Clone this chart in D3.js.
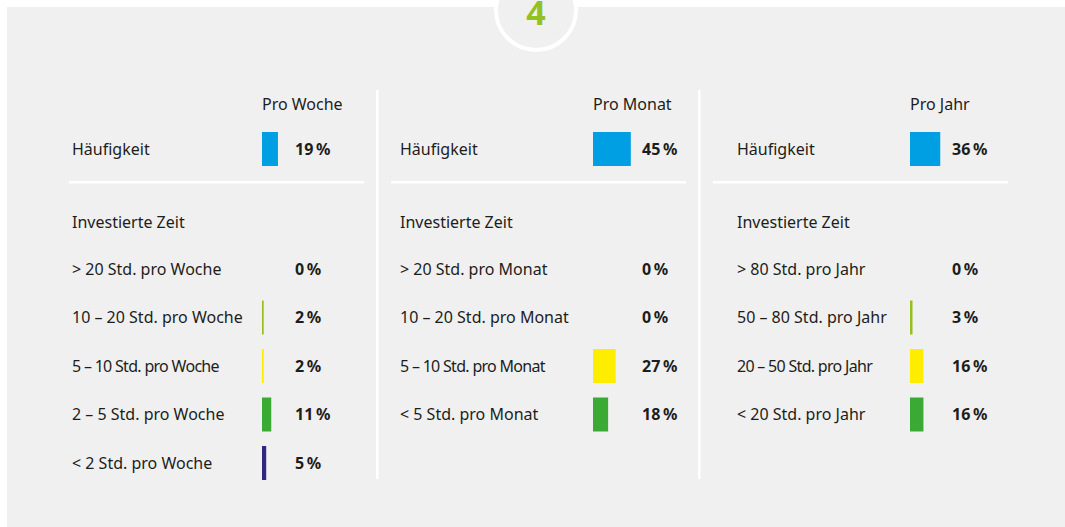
<!DOCTYPE html>
<html>
<head>
<meta charset="utf-8">
<script src="https://cdn.jsdelivr.net/npm/d3@7"></script>
<style>
  html, body { margin: 0; padding: 0; background: #ffffff; }
  svg { display: block; }
  text { font-family: "Noto Sans", "Open Sans", sans-serif; fill: #1d1d1b; }
</style>
</head>
<body>
<svg id="chart" width="1065" height="527"></svg>
<script>
// ---- data ----
const stepNumber = "4";
const periods = ["Pro Woche", "Pro Monat", "Pro Jahr"];
const frequencyLabel = "Häufigkeit";
const frequencyValues = [19, 45, 36];
const timeTitle = "Investierte Zeit";
const timeLabelsWoche = ["> 20 Std. pro Woche", "10 – 20 Std. pro Woche", "5 – 10 Std. pro Woche", "2 – 5 Std. pro Woche", "< 2 Std. pro Woche"];
const timeValuesWoche = [0, 2, 2, 11, 5];
const timeLabelsMonat = ["> 20 Std. pro Monat", "10 – 20 Std. pro Monat", "5 – 10 Std. pro Monat", "< 5 Std. pro Monat"];
const timeValuesMonat = [0, 0, 27, 18];
const timeLabelsJahr = ["> 80 Std. pro Jahr", "50 – 80 Std. pro Jahr", "20 – 50 Std. pro Jahr", "< 20 Std. pro Jahr"];
const timeValuesJahr = [0, 3, 16, 16];

// ---- styles / layout ----
const frequencyColor = "#009fe3";
const rowColors = ["#95c11f", "#95c11f", "#ffed00", "#3aaa35", "#312783"];
const bg = "#f0f0f0";
const panelLayout = [
  { labelX: 72,  barX: 262, valueX: 295, lineX1: 69,  lineX2: 364 },
  { labelX: 400, barX: 593, valueX: 642, lineX1: 391, lineX2: 686 },
  { labelX: 737, barX: 910, valueX: 952, lineX1: 713, lineX2: 1008 }
];
const panelRows = [
  { labels: timeLabelsWoche, values: timeValuesWoche },
  { labels: timeLabelsMonat, values: timeValuesMonat },
  { labels: timeLabelsJahr,  values: timeValuesJahr }
];

const svg = d3.select("#chart");

// background panel
svg.append("rect").attr("x", 7).attr("y", 7).attr("width", 1058).attr("height", 520).attr("fill", bg);

// step circle
svg.append("circle").attr("cx", 536).attr("cy", 10).attr("r", 40)
  .attr("fill", bg).attr("stroke", "#ffffff").attr("stroke-width", 4);
svg.append("text").attr("x", 536).attr("y", 25).attr("text-anchor", "middle")
  .style("font-size", "34px").style("font-weight", 700).style("fill", "#95c11f")
  .text(stepNumber);

// vertical dividers
[377, 699].forEach(x => {
  svg.append("rect").attr("x", x - 1).attr("y", 90).attr("width", 2.5).attr("height", 389).attr("fill", "#ffffff");
});

// scales
const w = d3.scaleLinear().domain([0, 100]).range([0, 84]);
const yRow = d3.scalePoint().domain(d3.range(5)).range([269, 463]);
const barH = 34;
const headerY = 104, freqY = 149, titleY = 222, lineY = 182;

periods.forEach((p, i) => {
  const L = panelLayout[i];
  const g = svg.append("g");

  g.append("text").attr("x", L.barX).attr("y", headerY).attr("dy", "0.36em")
    .style("font-size", "16px").text(p);

  g.append("text").attr("x", L.labelX).attr("y", freqY).attr("dy", "0.36em")
    .style("font-size", "16px").text(frequencyLabel);
  g.append("rect").attr("x", L.barX).attr("y", freqY - barH / 2)
    .attr("width", w(frequencyValues[i])).attr("height", barH).attr("fill", frequencyColor);
  g.append("text").attr("x", L.valueX).attr("y", freqY).attr("dy", "0.36em")
    .style("font-size", "16px").style("font-weight", 700).text(frequencyValues[i] + "\u2009%");

  g.append("rect").attr("x", L.lineX1).attr("y", lineY - 1)
    .attr("width", L.lineX2 - L.lineX1).attr("height", 2.5).attr("fill", "#ffffff");

  g.append("text").attr("x", L.labelX).attr("y", titleY).attr("dy", "0.36em")
    .style("font-size", "16px").text(timeTitle);

  const rows = panelRows[i].labels.map((lab, k) => ({ lab, v: panelRows[i].values[k], k }));

  g.selectAll(".lab").data(rows).join("text")
    .attr("x", L.labelX).attr("y", d => yRow(d.k)).attr("dy", "0.36em")
    .style("font-size", "16px")
    .style("letter-spacing", d => d.k === 2 ? "-0.7px" : "0px")
    .text(d => d.lab);

  g.selectAll(".bar").data(rows.filter(d => d.v > 0)).join("rect")
    .attr("x", L.barX).attr("y", d => yRow(d.k) - barH / 2)
    .attr("width", d => w(d.v)).attr("height", barH)
    .attr("fill", d => rowColors[d.k]);

  g.selectAll(".val").data(rows).join("text")
    .attr("x", L.valueX).attr("y", d => yRow(d.k)).attr("dy", "0.36em")
    .style("font-size", "16px").style("font-weight", 700)
    .text(d => d.v + "\u2009%");
});
</script>
</body>
</html>
